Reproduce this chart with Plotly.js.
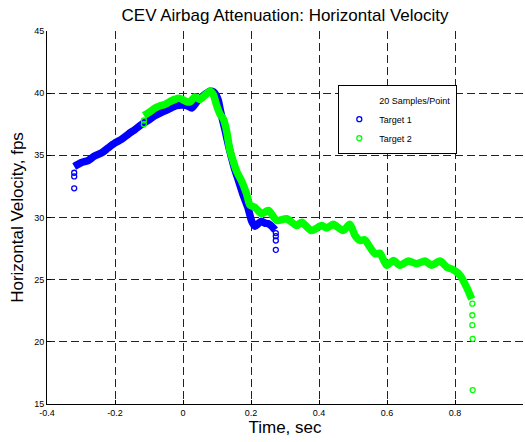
<!DOCTYPE html>
<html>
<head>
<meta charset="utf-8">
<script src="https://cdn.plot.ly/plotly-3.0.1.min.js"></script>
<style>
  html, body { margin: 0; padding: 0; background: #fff; }
  #chart { width: 525px; height: 442px; }
</style>
</head>
<body>
<div id="chart"></div>
<script>
// Target 1: averaged horizontal velocity (20 samples per point)
const target1Time = [-0.320, -0.300, -0.278, -0.260, -0.239, -0.220, -0.200, -0.180, -0.161, -0.140,
  -0.121, -0.100, -0.082, -0.060, -0.043, -0.020, 0.000, 0.012, 0.026, 0.035,
  0.045, 0.060, 0.070, 0.079, 0.090, 0.098, 0.104, 0.110, 0.116, 0.124,
  0.133, 0.143, 0.153, 0.163, 0.177, 0.192, 0.202, 0.212, 0.221, 0.231,
  0.241, 0.251, 0.261, 0.271];
const target1Vel = [34.1, 34.4, 34.6, 34.95, 35.2, 35.6, 36.0, 36.3, 36.7, 37.1,
  37.5, 37.85, 38.2, 38.5, 38.7, 39.0, 39.05, 39.0, 38.8, 39.1,
  39.45, 39.8, 40.0, 40.15, 40.1, 39.8, 39.4, 38.6, 37.9, 37.0,
  35.9, 34.8, 33.8, 33.0, 31.8, 30.7, 29.7, 29.3, 29.5, 29.7,
  29.55, 29.5, 29.3, 29.0];
// Target 1: isolated points at the start and end of the record
const target1EdgeTime = [-0.320, -0.320, -0.320, 0.273, 0.273, 0.273, 0.273];
const target1EdgeVel = [33.6, 33.3, 32.35, 28.75, 28.5, 28.15, 27.4];

// Target 2: averaged horizontal velocity (20 samples per point)
const target2Time = [-0.115, -0.100, -0.082, -0.065, -0.053, -0.040, -0.024, -0.012, 0.001, 0.012,
  0.021, 0.035, 0.050, 0.065, 0.079, 0.089, 0.099, 0.109, 0.119, 0.128,
  0.138, 0.148, 0.158, 0.173, 0.187, 0.197, 0.212, 0.231, 0.251, 0.276,
  0.305, 0.334, 0.349, 0.378, 0.408, 0.423, 0.442, 0.471, 0.491, 0.506,
  0.521, 0.535, 0.550, 0.565, 0.579, 0.599, 0.619, 0.638, 0.663, 0.687,
  0.712, 0.731, 0.756, 0.776, 0.795, 0.815, 0.834, 0.849];
const target2Vel = [38.2, 38.45, 38.8, 39.0, 39.1, 39.3, 39.5, 39.6, 39.45, 39.3,
  39.3, 39.7, 39.5, 39.85, 40.15, 39.9, 39.0, 38.3, 37.9, 37.0,
  35.4, 34.5, 33.7, 32.9, 31.9, 31.0, 30.8, 30.3, 30.56, 29.76,
  29.9, 29.35, 29.62, 28.95, 29.35, 29.15, 29.45, 28.95, 29.45, 28.55,
  28.15, 28.2, 27.6, 27.08, 27.13, 26.15, 26.55, 26.15, 26.5, 26.28,
  26.5, 26.15, 26.5, 26.0, 25.8, 25.35, 24.4, 23.45];
// Target 2: isolated points at the start and end of the record
const target2EdgeTime = [-0.115, -0.115, 0.851, 0.851, 0.851, 0.852, 0.852];
const target2EdgeVel = [37.8, 37.5, 23.07, 22.14, 21.34, 20.24, 16.12];

// Axis ticks
const xTickVals = [-0.4, -0.2, 0, 0.2, 0.4, 0.6, 0.8, 1];
const xTickText = ['-0.4', '-0.2', '0', '0.2', '0.4', '0.6', '0.8', '1'];
const yTickVals = [15, 20, 25, 30, 35, 40, 45];
const yTickText = ['15', '20', '25', '30', '35', '40', '45'];

const BLUE = '#0000ff';
const GREEN = '#00ff00';
const FONT = '"Liberation Sans", Arial, Helvetica, sans-serif';

const traces = [
  { // header line of the legend, no symbol
    x: [null], y: [null], type: 'scatter', mode: 'markers',
    name: '20 Samples/Point',
    marker: { color: 'rgba(0,0,0,0)', size: 1 },
    hoverinfo: 'skip'
  },
  {
    x: target1Time, y: target1Vel, type: 'scatter', mode: 'lines',
    line: { color: BLUE, width: 7.5, shape: 'spline', smoothing: 0.7 },
    showlegend: false, hoverinfo: 'skip'
  },
  {
    x: target1EdgeTime, y: target1EdgeVel, type: 'scatter', mode: 'markers',
    name: 'Target 1',
    marker: { symbol: 'circle-open', color: BLUE, size: 5, line: { width: 1.3, color: BLUE } }
  },
  {
    x: target2Time, y: target2Vel, type: 'scatter', mode: 'lines',
    line: { color: GREEN, width: 7.5, shape: 'spline', smoothing: 0.7 },
    showlegend: false, hoverinfo: 'skip'
  },
  {
    x: target2EdgeTime, y: target2EdgeVel, type: 'scatter', mode: 'markers',
    name: 'Target 2',
    marker: { symbol: 'circle-open', color: GREEN, size: 5, line: { width: 1.3, color: GREEN } }
  }
];

const axisCommon = {
  showline: true, linecolor: '#000', linewidth: 1, mirror: false,
  ticks: 'inside', ticklen: 4, tickcolor: '#000', tickwidth: 1,
  showgrid: true, gridcolor: '#222', gridwidth: 1, griddash: '8px,4px',
  zeroline: false, tickfont: { family: FONT, size: 9, color: '#000' }
};

const layout = {
  width: 525, height: 442,
  margin: { l: 47, r: 2, t: 31, b: 38, pad: 0 },
  paper_bgcolor: '#fff', plot_bgcolor: '#fff',
  font: { family: FONT, color: '#000' },
  title: {
    text: 'CEV Airbag Attenuation: Horizontal Velocity',
    font: { family: FONT, size: 17, color: '#000' },
    x: 0.5, xref: 'paper', xanchor: 'center',
    y: 1 - 15 / 442, yref: 'container', yanchor: 'middle'
  },
  xaxis: Object.assign({}, axisCommon, {
    range: [-0.4, 1], tickmode: 'array', tickvals: xTickVals, ticktext: xTickText,
    title: { text: 'Time, sec', font: { family: FONT, size: 17, color: '#000' }, standoff: 3 }
  }),
  yaxis: Object.assign({}, axisCommon, {
    range: [15, 45], tickmode: 'array', tickvals: yTickVals, ticktext: yTickText,
    title: { text: 'Horizontal Velocity, fps', font: { family: FONT, size: 17, color: '#000' }, standoff: 6 }
  }),
  legend: {
    x: 0.612, y: 0.856, xanchor: 'left', yanchor: 'top',
    bgcolor: '#fff', bordercolor: '#000', borderwidth: 1,
    font: { family: FONT, size: 9, color: '#000' },
    traceorder: 'normal', itemwidth: 30
  },
  showlegend: true,
  hovermode: false
};

Plotly.newPlot('chart', traces, layout, { staticPlot: true, displayModeBar: false });
</script>
</body>
</html>
